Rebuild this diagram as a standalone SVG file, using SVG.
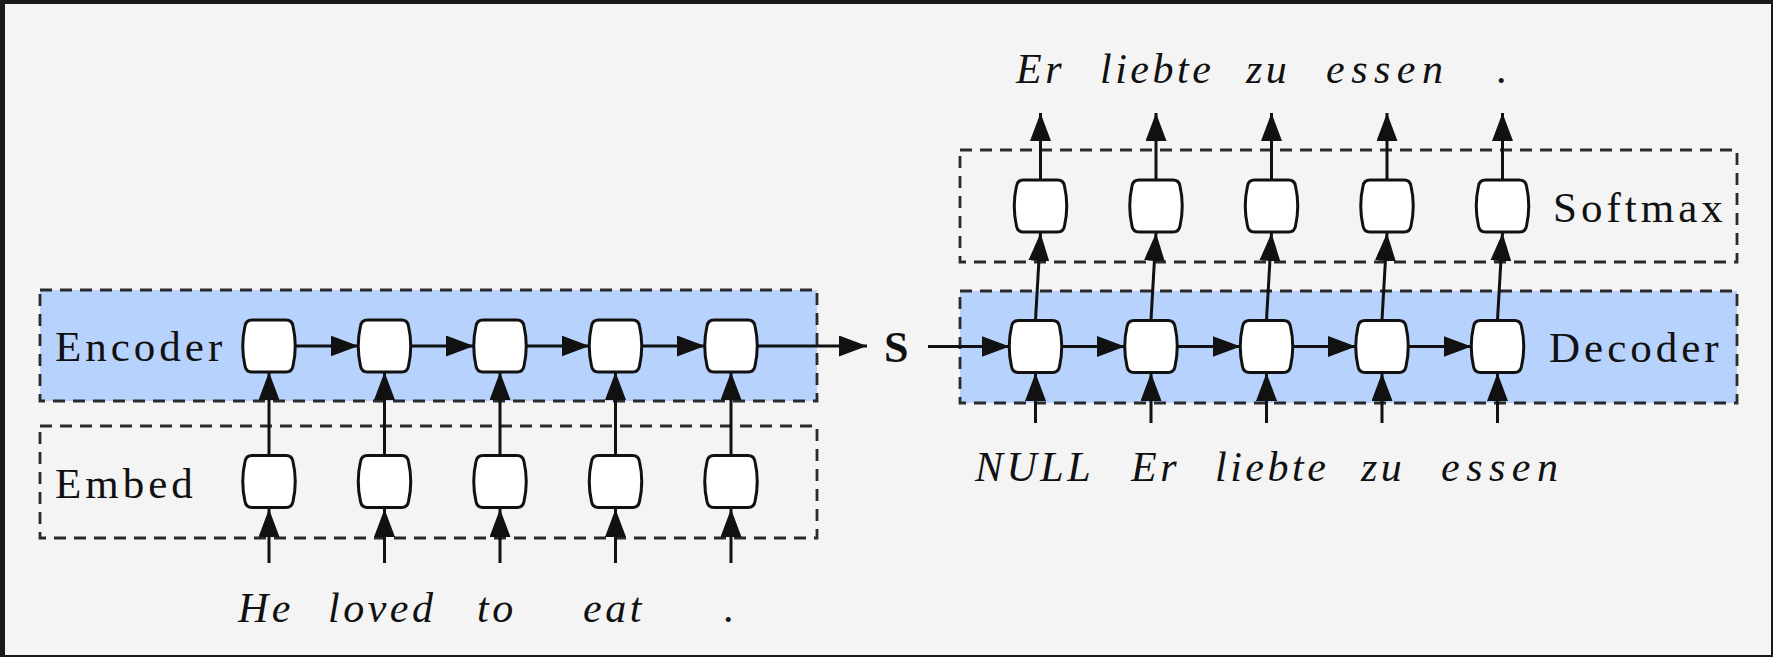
<svg xmlns="http://www.w3.org/2000/svg" xmlns:xlink="http://www.w3.org/1999/xlink" width="1773" height="657" viewBox="0 0 1773 657">
<style>
.lbl{font-family:"Liberation Serif","Times New Roman",serif;font-size:43px;letter-spacing:4px;fill:#111}
.word{font-family:"Liberation Serif","Times New Roman",serif;font-style:italic;font-size:42px;letter-spacing:3.5px;fill:#111}
.wide{letter-spacing:6.5px}
.s{font-family:"Liberation Serif","Times New Roman",serif;font-weight:bold;font-size:44px;fill:#111}
.box{stroke:#2a2a2a;stroke-width:2.8;stroke-dasharray:12 8}
.conn line{stroke:#111;stroke-width:3;marker-end:url(#arr)}
</style>
<defs>
<marker id="arr" markerUnits="userSpaceOnUse" viewBox="0 0 28 21" refX="28" refY="10.5" markerWidth="28" markerHeight="21" orient="auto">
<path d="M0,0 L28,10.5 L0,21 Z" fill="#111"/>
</marker>
<path id="cell" d="M-17,-26 H17 Q23,-26 24,-20 Q28.5,0 24,20 Q23,26 17,26 H-17 Q-23,26 -24,20 Q-28.5,0 -24,-20 Q-23,-26 -17,-26 Z" fill="#fff" stroke="#111" stroke-width="3"/>
</defs>
<rect x="0" y="0" width="1773" height="657" fill="#1a1a1a"/>
<rect x="5" y="4" width="1766" height="651" fill="#f4f4f4"/>

<g id="encoder-layer">
<rect class="box" x="40" y="290" width="777" height="111" fill="#b7d2fc"/>
<text class="lbl" x="55" y="361">Encoder</text>
</g>
<g id="embed-layer">
<rect class="box" x="40" y="426" width="777" height="112" fill="none"/>
<text class="lbl" x="55" y="498">Embed</text>
</g>
<g id="softmax-layer">
<rect class="box" x="960" y="150" width="777" height="112" fill="none"/>
<text class="lbl" x="1553" y="222">Softmax</text>
</g>
<g id="decoder-layer">
<rect class="box" x="960" y="291" width="777" height="112" fill="#b7d2fc"/>
<text class="lbl" x="1549" y="362">Decoder</text>
</g>

<g id="connectors" class="conn">
<line x1="269" y1="563" x2="269" y2="509"/>
<line x1="384.5" y1="563" x2="384.5" y2="509"/>
<line x1="500" y1="563" x2="500" y2="509"/>
<line x1="615.5" y1="563" x2="615.5" y2="509"/>
<line x1="731" y1="563" x2="731" y2="509"/>
<line x1="269" y1="455" x2="269" y2="372"/>
<line x1="384.5" y1="455" x2="384.5" y2="372"/>
<line x1="500" y1="455" x2="500" y2="372"/>
<line x1="615.5" y1="455" x2="615.5" y2="372"/>
<line x1="731" y1="455" x2="731" y2="372"/>
<line x1="295" y1="346" x2="358.5" y2="346"/>
<line x1="410.5" y1="346" x2="474" y2="346"/>
<line x1="526" y1="346" x2="589.5" y2="346"/>
<line x1="641.5" y1="346" x2="705" y2="346"/>
<line x1="757" y1="346" x2="867" y2="346"/>
<line x1="928" y1="346.5" x2="1009.5" y2="346.5"/>
<line x1="1061.5" y1="346.5" x2="1125" y2="346.5"/>
<line x1="1177" y1="346.5" x2="1240.5" y2="346.5"/>
<line x1="1292.5" y1="346.5" x2="1356" y2="346.5"/>
<line x1="1408" y1="346.5" x2="1471.5" y2="346.5"/>
<line x1="1035.5" y1="423" x2="1035.5" y2="373"/>
<line x1="1151" y1="423" x2="1151" y2="373"/>
<line x1="1266.5" y1="423" x2="1266.5" y2="373"/>
<line x1="1382" y1="423" x2="1382" y2="373"/>
<line x1="1497.5" y1="423" x2="1497.5" y2="373"/>
<line x1="1035.5" y1="320" x2="1040.5" y2="233"/>
<line x1="1151" y1="320" x2="1156" y2="233"/>
<line x1="1266.5" y1="320" x2="1271.5" y2="233"/>
<line x1="1382" y1="320" x2="1387" y2="233"/>
<line x1="1497.5" y1="320" x2="1502.5" y2="233"/>
<line x1="1040.5" y1="179" x2="1040.5" y2="113"/>
<line x1="1156" y1="179" x2="1156" y2="113"/>
<line x1="1271.5" y1="179" x2="1271.5" y2="113"/>
<line x1="1387" y1="179" x2="1387" y2="113"/>
<line x1="1502.5" y1="179" x2="1502.5" y2="113"/>
</g>

<g id="embed-nodes">
<use xlink:href="#cell" x="269" y="481.5"/>
<use xlink:href="#cell" x="384.5" y="481.5"/>
<use xlink:href="#cell" x="500" y="481.5"/>
<use xlink:href="#cell" x="615.5" y="481.5"/>
<use xlink:href="#cell" x="731" y="481.5"/>
</g>
<g id="encoder-nodes">
<use xlink:href="#cell" x="269" y="346"/>
<use xlink:href="#cell" x="384.5" y="346"/>
<use xlink:href="#cell" x="500" y="346"/>
<use xlink:href="#cell" x="615.5" y="346"/>
<use xlink:href="#cell" x="731" y="346"/>
</g>
<g id="decoder-nodes">
<use xlink:href="#cell" x="1035.5" y="346.5"/>
<use xlink:href="#cell" x="1151" y="346.5"/>
<use xlink:href="#cell" x="1266.5" y="346.5"/>
<use xlink:href="#cell" x="1382" y="346.5"/>
<use xlink:href="#cell" x="1497.5" y="346.5"/>
</g>
<g id="softmax-nodes">
<use xlink:href="#cell" x="1040.5" y="206"/>
<use xlink:href="#cell" x="1156" y="206"/>
<use xlink:href="#cell" x="1271.5" y="206"/>
<use xlink:href="#cell" x="1387" y="206"/>
<use xlink:href="#cell" x="1502.5" y="206"/>
</g>

<g id="s-node">
<text class="s" x="884" y="362">S</text>
</g>

<g id="source-words">
<text class="word" x="238" y="622">He</text>
<text class="word" x="328" y="622">loved</text>
<text class="word" x="477" y="622">to</text>
<text class="word" x="583" y="622">eat</text>
<text class="word" x="724" y="622">.</text>
</g>
<g id="decoder-inputs">
<text class="word" x="975" y="481">NULL</text>
<text class="word" x="1131" y="481">Er</text>
<text class="word" x="1215" y="481">liebte</text>
<text class="word" x="1361" y="481">zu</text>
<text class="word wide" x="1441" y="481">essen</text>
</g>
<g id="outputs">
<text class="word" x="1016" y="83">Er</text>
<text class="word" x="1100" y="83">liebte</text>
<text class="word" x="1246" y="83">zu</text>
<text class="word wide" x="1326" y="83">essen</text>
<text class="word" x="1497" y="83">.</text>
</g>
</svg>
